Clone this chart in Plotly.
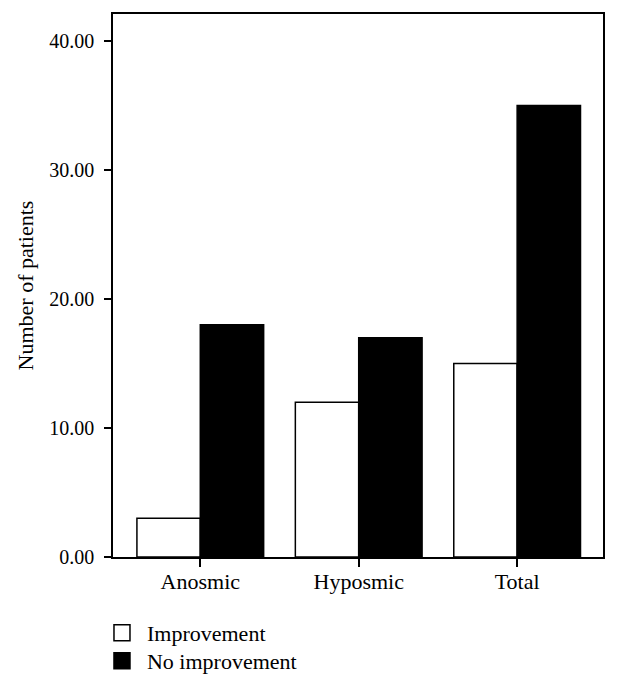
import plotly.graph_objects as go

categories = ["Anosmic", "Hyposmic", "Total"]
improvement = [3, 12, 15]
no_improvement = [18, 17, 35]
y_ticks = [0, 10, 20, 30, 40]

FONT = "Liberation Serif"

fig = go.Figure()
fig.add_trace(go.Bar(x=categories, y=improvement, name="Improvement",
                     marker=dict(color="white", line=dict(color="black", width=1.5)),
                     showlegend=False))
fig.add_trace(go.Bar(x=categories, y=no_improvement, name="No improvement",
                     marker=dict(color="black", line=dict(color="black", width=1.5)),
                     showlegend=False))
# legend entries with larger square symbols, each in its own legend box
fig.add_trace(go.Scatter(x=[None], y=[None], mode="markers", name="Improvement",
                         legend="legend",
                         marker=dict(symbol="square", size=21, color="white",
                                     line=dict(color="black", width=1.5))))
fig.add_trace(go.Scatter(x=[None], y=[None], mode="markers", name="No improvement",
                         legend="legend2",
                         marker=dict(symbol="square", size=21, color="black",
                                     line=dict(color="black", width=1.5))))

leg_common = dict(xanchor="left", yanchor="top", font=dict(family=FONT, size=22),
                  itemsizing="trace", itemwidth=40, bgcolor="rgba(0,0,0,0)")

# page body has an 8px default margin, so the figure is offset by 8px
fig.update_layout(
    width=610, height=682,
    margin=dict(l=105, r=15, t=6, b=133, autoexpand=False),
    paper_bgcolor="white", plot_bgcolor="white",
    font=dict(family=FONT, size=22, color="black"),
    barmode="group", bargap=0.2, bargroupgap=0,
    legend=dict(x=-0.0327, y=-0.1013, **leg_common),
    legend2=dict(x=-0.0327, y=-0.1529, **leg_common),
    xaxis=dict(range=[-0.551, 2.542], showline=True, linecolor="black", linewidth=1.5,
               mirror=True, ticks="outside", ticklen=8, tickcolor="black", tickwidth=1.5,
               showgrid=False, zeroline=False, automargin=False,
               tickfont=dict(size=22), ticklabelstandoff=-4),
    yaxis=dict(range=[0, 42.1], showline=True, linecolor="black", linewidth=1.5,
               mirror=True, ticks="outside", ticklen=7, tickcolor="black", tickwidth=1.5,
               tickvals=y_ticks, tickformat=".2f", showgrid=False, zeroline=False,
               automargin=False, tickfont=dict(size=20), ticklabelstandoff=6,
               title=dict(text="Number of patients", standoff=10, font=dict(size=22))),
)

fig.write_html("out.html")
